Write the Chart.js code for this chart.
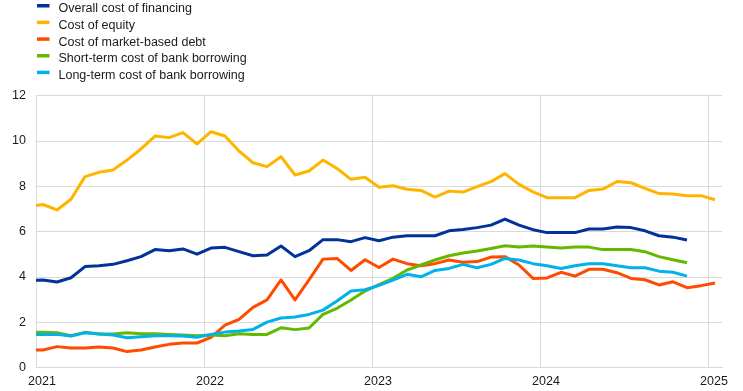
<!DOCTYPE html>
<html>
<head>
<meta charset="utf-8">
<script src="https://cdn.jsdelivr.net/npm/chart.js@4.4.1/dist/chart.umd.min.js"></script>
<style>
  html, body { margin: 0; padding: 0; background: #fff; }
  #wrap { position: relative; width: 743px; height: 391px; }
</style>
</head>
<body>
<div id="wrap"><canvas id="costChart"></canvas></div>
<script>
// months from Dec 2020 to Jan 2025, plotted at mid-month
const months = [
  '2020-12',
  '2021-01', '2021-02', '2021-03', '2021-04', '2021-05', '2021-06', '2021-07', '2021-08', '2021-09', '2021-10', '2021-11', '2021-12',
  '2022-01', '2022-02', '2022-03', '2022-04', '2022-05', '2022-06', '2022-07', '2022-08', '2022-09', '2022-10', '2022-11', '2022-12',
  '2023-01', '2023-02', '2023-03', '2023-04', '2023-05', '2023-06', '2023-07', '2023-08', '2023-09', '2023-10', '2023-11', '2023-12',
  '2024-01', '2024-02', '2024-03', '2024-04', '2024-05', '2024-06', '2024-07', '2024-08', '2024-09', '2024-10', '2024-11', '2024-12',
  '2025-01'
];

const yearTicks = [0, 12, 24, 36, 48];
const yearLabels = ['2021', '2022', '2023', '2024', '2025'];

const overallCost = [
  3.84,
  3.87, 3.78, 3.97, 4.46, 4.50, 4.56, 4.72, 4.90, 5.21, 5.16, 5.24, 5.01,
  5.28, 5.31, 5.12, 4.94, 4.97, 5.37, 4.90, 5.16, 5.65, 5.65, 5.56, 5.74,
  5.60, 5.76, 5.82, 5.82, 5.82, 6.04, 6.10, 6.18, 6.29, 6.56, 6.29, 6.09,
  5.96, 5.96, 5.96, 6.12, 6.12, 6.21, 6.18, 6.04, 5.82, 5.76, 5.63
];

const equityCost = [
  7.12,
  7.20, 6.96, 7.43, 8.43, 8.62, 8.72, 9.16, 9.65, 10.22, 10.15, 10.37, 9.87,
  10.41, 10.22, 9.56, 9.04, 8.87, 9.31, 8.50, 8.68, 9.16, 8.79, 8.31, 8.40,
  7.96, 8.03, 7.87, 7.82, 7.53, 7.79, 7.75, 7.99, 8.21, 8.56, 8.09, 7.76,
  7.50, 7.50, 7.50, 7.82, 7.88, 8.21, 8.16, 7.91, 7.68, 7.66, 7.59, 7.59,
  7.41
];

const marketDebtCost = [
  0.78,
  0.78, 0.93, 0.87, 0.87, 0.91, 0.87, 0.71, 0.78, 0.91, 1.03, 1.09, 1.09,
  1.34, 1.88, 2.13, 2.66, 2.99, 3.87, 2.99, 3.87, 4.79, 4.82, 4.29, 4.76,
  4.42, 4.79, 4.59, 4.50, 4.59, 4.75, 4.65, 4.68, 4.88, 4.90, 4.53, 3.94,
  3.96, 4.21, 4.04, 4.34, 4.34, 4.19, 3.94, 3.88, 3.65, 3.79, 3.53, 3.62,
  3.74
];

const shortTermBank = [
  1.56,
  1.56, 1.54, 1.41, 1.56, 1.49, 1.49, 1.54, 1.50, 1.50, 1.47, 1.44, 1.41,
  1.44, 1.41, 1.50, 1.47, 1.47, 1.76, 1.68, 1.75, 2.35, 2.62, 2.99, 3.38,
  3.66, 3.94, 4.31, 4.53, 4.75, 4.94, 5.06, 5.15, 5.26, 5.38, 5.32, 5.37,
  5.32, 5.28, 5.32, 5.32, 5.21, 5.21, 5.21, 5.12, 4.90, 4.76, 4.63
];

const longTermBank = [
  1.47,
  1.47, 1.47, 1.40, 1.54, 1.49, 1.44, 1.32, 1.37, 1.41, 1.41, 1.40, 1.34,
  1.47, 1.57, 1.62, 1.69, 2.01, 2.19, 2.24, 2.35, 2.54, 2.94, 3.38, 3.44,
  3.63, 3.87, 4.12, 4.01, 4.29, 4.38, 4.56, 4.41, 4.56, 4.82, 4.75, 4.59,
  4.50, 4.38, 4.50, 4.59, 4.59, 4.50, 4.41, 4.41, 4.26, 4.21, 4.04
];

const seriesNames = [
  'Overall cost of financing',
  'Cost of equity',
  'Cost of market-based debt',
  'Short-term cost of bank borrowing',
  'Long-term cost of bank borrowing'
];
const seriesColors = ['#003299', '#ffb400', '#ff4b00', '#65b800', '#00b1ea'];
const seriesValues = [overallCost, equityCost, marketDebtCost, shortTermBank, longTermBank];

// month index from Jan 2021, centred in the month
function monthPosition(label) {
  const [y, m] = label.split('-').map(Number);
  return (y - 2021) * 12 + (m - 1) + 0.5;
}

function toPoints(values) {
  return values.map((v, i) => ({ x: monthPosition(months[i]), y: v }));
}

const FONT = "Arial, 'Liberation Sans', sans-serif";
const gridColor = '#d9d9d9';

const stackedLegend = {
  id: 'stackedLegend',
  afterDraw(chart) {
    const ctx = chart.ctx;
    ctx.save();
    ctx.font = `12.5px ${FONT}`;
    ctx.textBaseline = 'alphabetic';
    ctx.textAlign = 'left';
    chart.data.datasets.forEach((ds, i) => {
      const top = 4 + i * 16.67;
      ctx.fillStyle = ds.borderColor;
      ctx.fillRect(37, top, 12.5, 3.5);
      ctx.fillStyle = '#1a1a1a';
      ctx.fillText(ds.label, 58.5, top + 8.4);
    });
    ctx.restore();
  }
};

new Chart(document.getElementById('costChart'), {
  type: 'line',
  data: {
    datasets: seriesNames.map((name, i) => ({
      label: name,
      data: toPoints(seriesValues[i]),
      borderColor: seriesColors[i],
      backgroundColor: seriesColors[i],
      borderWidth: 3,
      pointRadius: 0,
      tension: 0,
      borderJoinStyle: 'round',
      clip: 0,
      order: seriesNames.length - i
    }))
  },
  options: {
    responsive: true,
    maintainAspectRatio: false,
    animation: false,
    layout: { padding: { top: 95.7, right: 21, left: 0, bottom: 0 } },
    scales: {
      x: {
        type: 'linear',
        min: 0,
        max: 49,
        afterBuildTicks: scale => { scale.ticks = yearTicks.map(v => ({ value: v })); },
        afterFit: scale => { scale.height = 23.3; },
        grid: { color: gridColor, drawTicks: false },
        border: { color: gridColor },
        ticks: {
          autoSkip: false,
          maxRotation: 0,
          padding: 6,
          labelOffset: 6,
          color: '#1a1a1a',
          font: { family: FONT, size: 12.5 },
          callback: v => yearLabels[yearTicks.indexOf(v)] ?? ''
        }
      },
      y: {
        min: 0,
        max: 12,
        afterFit: scale => { scale.width = 36; },
        grid: { color: gridColor, drawTicks: false },
        border: { color: gridColor },
        ticks: {
          stepSize: 2,
          padding: 10,
          color: '#1a1a1a',
          font: { family: FONT, size: 12.5 }
        }
      }
    },
    plugins: {
      legend: { display: false },
      tooltip: { enabled: false }
    }
  },
  plugins: [stackedLegend]
});
</script>
</body>
</html>
